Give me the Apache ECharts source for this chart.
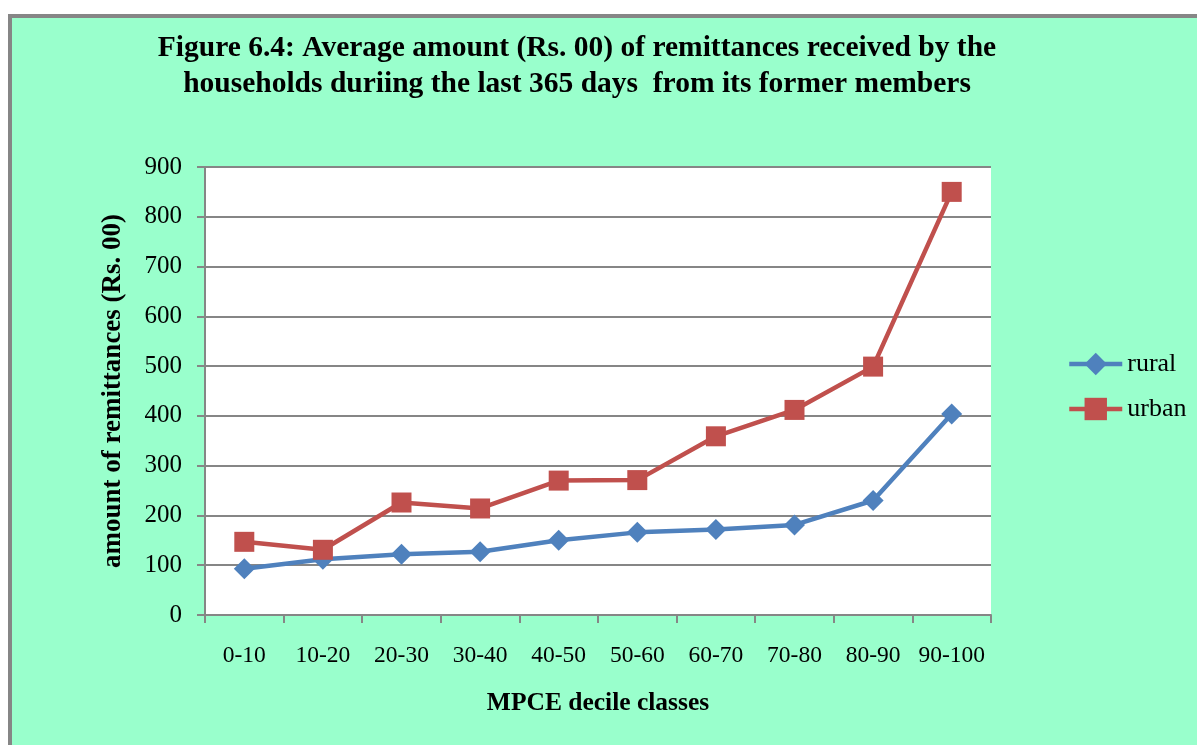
<!DOCTYPE html>
<html>
<head>
<meta charset="utf-8">
<script src="https://cdn.jsdelivr.net/npm/echarts@6/dist/echarts.min.js"></script>
<style>
html, body { margin: 0; padding: 0; background: #fff; }
#main { width: 1197px; height: 745px; }
</style>
</head>
<body>
<div id="main"></div>
<script>
// MPCE decile classes and remittance amounts (Rs. 00)
var categories = ['0-10', '10-20', '20-30', '30-40', '40-50', '50-60', '60-70', '70-80', '80-90', '90-100']
var rural = [93, 112, 122, 127, 150, 166, 172, 181, 230, 404]
var urban = [147, 131, 226, 214, 270, 271, 359, 412, 499, 850]

var serif = '"Liberation Serif", "Times New Roman", serif'
var chart = echarts.init(document.getElementById('main'))

chart.setOption({
    backgroundColor: '#fff',
    animation: false,
    graphic: [{
        type: 'rect',
        z: -10,
        shape: { x: 10, y: 16, width: 1300, height: 800 },
        style: { fill: '#99FFCC', stroke: '#868686', lineWidth: 4 }
    }, {
        type: 'text',
        x: 577,
        y: 30,
        style: {
            text: 'Figure 6.4: Average amount (Rs. 00) of remittances received by the\nhouseholds duriing the last 365 days  from its former members',
            align: 'center',
            font: 'bold 29.5px ' + serif,
            lineHeight: 36,
            fill: '#000'
        }
    }],
    legend: {
        orient: 'vertical',
        left: 1062,
        top: 346,
        itemWidth: 53,
        itemHeight: 28,
        itemGap: 19,
        lineStyle: { width: 4.5 },
        textStyle: { fontFamily: serif, fontSize: 26, color: '#000' },
        data: ['rural', 'urban']
    },
    grid: {
        left: 205,
        right: 206,
        top: 167,
        bottom: 130,
        show: true,
        backgroundColor: '#fff',
        borderWidth: 0
    },
    xAxis: {
        type: 'category',
        data: categories,
        boundaryGap: true,
        name: 'MPCE decile classes',
        nameLocation: 'middle',
        nameGap: 75,
        nameTextStyle: { fontFamily: serif, fontSize: 25.5, fontWeight: 'bold', color: '#000' },
        axisLine: { lineStyle: { color: '#868686', width: 2 } },
        axisTick: { show: true, interval: 0, length: 8, lineStyle: { color: '#868686', width: 2 } },
        axisLabel: { interval: 0, margin: 29, fontFamily: serif, fontSize: 23.5, color: '#000' }
    },
    yAxis: {
        type: 'value',
        min: 0,
        max: 900,
        interval: 100,
        name: 'amount of remittances (Rs. 00)',
        nameLocation: 'middle',
        nameGap: 78,
        nameTextStyle: { fontFamily: serif, fontSize: 27, fontWeight: 'bold', color: '#000' },
        axisLine: { show: true, lineStyle: { color: '#868686', width: 2 } },
        axisTick: { show: true, length: 8, lineStyle: { color: '#868686', width: 2 } },
        axisLabel: { margin: 23, fontFamily: serif, fontSize: 25, color: '#000' },
        splitLine: { lineStyle: { color: '#868686', width: 2 } }
    },
    series: [{
        name: 'rural',
        type: 'line',
        data: rural,
        symbol: 'diamond',
        symbolSize: 21,
        lineStyle: { color: '#4F81BD', width: 4.5 },
        itemStyle: { color: '#4F81BD' }
    }, {
        name: 'urban',
        type: 'line',
        data: urban,
        symbol: 'rect',
        symbolSize: 20,
        lineStyle: { color: '#C0504D', width: 4.5 },
        itemStyle: { color: '#C0504D' }
    }]
})
</script>
</body>
</html>
